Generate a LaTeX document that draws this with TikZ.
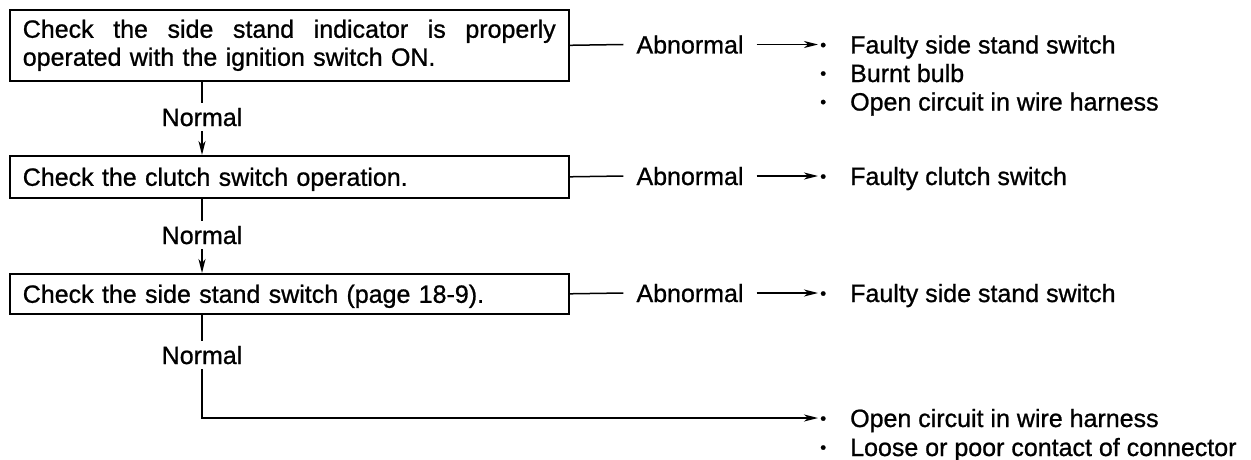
\documentclass[tikz,border=0pt]{standalone}
\usepackage{fontspec}
\setmainfont{Liberation Sans}[FakeBold=0.9]
\usetikzlibrary{arrows.meta}
\newcommand{\fsz}{\fontsize{25}{28}\selectfont}
\newcommand{\bul}{\makebox[10pt][c]{\raisebox{2.8pt}{\fontsize{17}{17}\selectfont •}}\hspace{22pt}}
\tikzset{
  box/.style={draw, line width=1.6pt, anchor=north west, inner xsep=13pt, inner ysep=0pt,
    text width=533pt, align=left, font=\fsz},
  onebox/.style={text height=18pt, text depth=0pt},
  lbl/.style={font=\fsz, inner xsep=13pt, inner ysep=5pt, text height=18pt, text depth=0pt},
  item/.style={font=\fsz, anchor=west, inner sep=0pt, text height=18pt, text depth=0pt},
  conn/.style={line width=1.5pt},
  arr/.style={line width=1.5pt, -{Stealth[length=14pt,width=7pt,inset=4pt]}}
}
\begin{document}
\begin{tikzpicture}[x=1pt,y=-1pt]
\useasboundingbox (0,0) rectangle (1251,460);
% boxes
\node[box, minimum height=71pt] (b1) at (9,9)
  {Check\hfill the\hfill side\hfill stand\hfill indicator\hfill is\hfill properly\par operated with the ignition switch ON.};
\node[box, onebox, minimum height=42pt] (b2) at (9,155) {Check the clutch switch operation.};
\node[box, onebox, minimum height=40pt] (b3) at (9,273) {Check the side stand switch (page 18-9).};
% normal labels
\node[lbl] (n1) at (202,117) {Normal};
\node[lbl] (n2) at (202,235) {Normal};
\node[lbl] (n3) at (202,355) {Normal};
% abnormal labels
\node[lbl] (a1) at (690,44.5) {Abnormal};
\node[lbl] (a2) at (690,176) {Abnormal};
\node[lbl] (a3) at (690,293) {Abnormal};
% result items
\node[item] (r1a) at (818,44.5) {\bul Faulty side stand switch};
\node[item] (r1b) at (818,73) {\bul Burnt bulb};
\node[item] (r1c) at (818,101.5) {\bul Open circuit in wire harness};
\node[item] (r2) at (818,176) {\bul Faulty clutch switch};
\node[item] (r3) at (818,293) {\bul Faulty side stand switch};
\node[item] (r4a) at (818,418) {\bul Open circuit in wire harness};
\node[item] (r4b) at (818,447) {\bul Loose or poor contact of connector};
% vertical flow
\draw[conn] (n1 |- b1.south) -- (n1.north);
\draw[arr] (n1.south) -- (n1 |- b2.north);
\draw[conn] (n2 |- b2.south) -- (n2.north);
\draw[arr] (n2.south) -- (n2 |- b3.north);
\draw[conn] (n3 |- b3.south) -- (n3.north);
\draw[arr] (n3.south) |- (r4a.west);
% abnormal branches
\draw[conn] (b1.east) -- (a1.west);
\draw[arr] (a1.east) -- (r1a.west);
\draw[conn] (b2.east) -- (a2.west);
\draw[arr] (a2.east) -- (r2.west);
\draw[conn] (b3.east) -- (a3.west);
\draw[arr] (a3.east) -- (r3.west);
\end{tikzpicture}
\end{document}
